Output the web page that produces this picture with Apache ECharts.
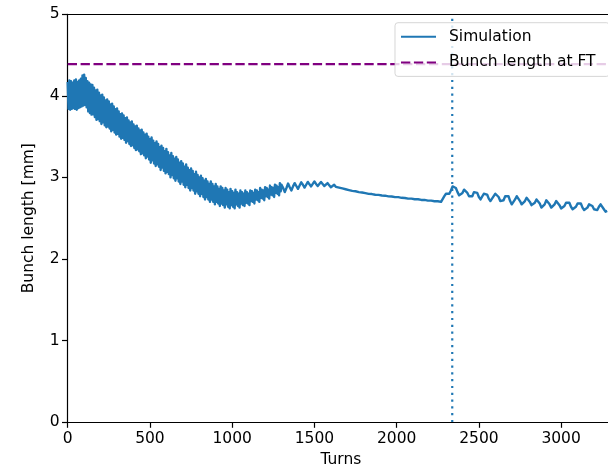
<!DOCTYPE html>
<html>
<head>
<meta charset="utf-8">
<script src="https://cdn.jsdelivr.net/npm/echarts@6/dist/echarts.min.js"></script>
<style>
  html, body { margin: 0; padding: 0; background: #fff; }
  #chart { width: 608px; height: 473px; }
</style>
</head>
<body>
<div id="chart"></div>
<script>
// Early turns: fast oscillation, sampled every 5 turns from turn 0
const earlyStep = 5;
const earlyLength = [
  4.17, 3.84, 4.19, 3.83, 4.18, 3.84, 4.16, 3.85, 4.19, 3.84,
  4.20, 3.83, 4.17, 3.85, 4.19, 3.86, 4.21, 3.87, 4.25, 3.88,
  4.26, 3.89, 4.22, 3.86, 4.18, 3.81, 4.16, 3.79, 4.14, 3.77,
  4.135, 3.775, 4.10, 3.74, 4.065, 3.705, 4.075, 3.715, 4.04, 3.69,
  4.005, 3.655, 4.015, 3.675, 3.98, 3.64, 3.945, 3.615, 3.955, 3.625,
  3.93, 3.60, 3.895, 3.565, 3.905, 3.585, 3.87, 3.55, 3.835, 3.525,
  3.845, 3.535, 3.81, 3.50, 3.775, 3.475, 3.785, 3.485, 3.76, 3.46,
  3.725, 3.425, 3.735, 3.445, 3.70, 3.41, 3.675, 3.385, 3.685, 3.395,
  3.65, 3.36, 3.625, 3.335, 3.635, 3.345, 3.60, 3.32, 3.575, 3.285,
  3.585, 3.295, 3.55, 3.27, 3.525, 3.235, 3.535, 3.255, 3.50, 3.22,
  3.47, 3.18, 3.49, 3.21, 3.45, 3.17, 3.42, 3.14, 3.44, 3.16,
  3.41, 3.13, 3.37, 3.09, 3.39, 3.12, 3.36, 3.08, 3.32, 3.05,
  3.35, 3.07, 3.31, 3.04, 3.27, 3.00, 3.30, 3.03, 3.26, 2.99,
  3.23, 2.96, 3.25, 2.99, 3.22, 2.95, 3.18, 2.92, 3.20, 2.95,
  3.17, 2.91, 3.13, 2.88, 3.16, 2.91, 3.12, 2.87, 3.09, 2.84,
  3.11, 2.87, 3.08, 2.84, 3.04, 2.80, 3.07, 2.83, 3.03, 2.80,
  3.00, 2.77, 3.02, 2.80, 2.99, 2.76, 2.96, 2.73, 2.98, 2.76,
  2.95, 2.73, 2.92, 2.70, 2.95, 2.73, 2.92, 2.70, 2.89, 2.67,
  2.92, 2.70, 2.89, 2.68, 2.86, 2.65, 2.89, 2.68, 2.87, 2.66,
  2.84, 2.63, 2.87, 2.67, 2.85, 2.64, 2.82, 2.62, 2.86, 2.66,
  2.83, 2.64, 2.81, 2.62, 2.85, 2.67, 2.82, 2.65, 2.80, 2.63,
  2.84, 2.68, 2.82, 2.66, 2.80, 2.65, 2.84, 2.69, 2.82, 2.68,
  2.80, 2.66, 2.84, 2.71, 2.83, 2.70, 2.81, 2.68, 2.85, 2.73,
  2.84, 2.72, 2.82, 2.70, 2.87, 2.75, 2.85, 2.74, 2.84, 2.72,
  2.88, 2.77, 2.87, 2.76, 2.85, 2.74, 2.90, 2.79, 2.88, 2.78,
  2.87, 2.76, 2.91, 2.81, 2.90, 2.80, 2.88, 2.78, 2.93, 2.83
];

// Later turns, sampled every 10 turns from turn 1300
const lateStart = 1300;
const lateStep = 10;
const lateLength = [
  2.91, 2.87, 2.82, 2.87, 2.925, 2.88, 2.84, 2.89, 2.93, 2.895,
  2.86, 2.90, 2.94, 2.91, 2.875, 2.91, 2.945, 2.915, 2.89, 2.92,
  2.95, 2.92, 2.895, 2.92, 2.945, 2.92, 2.895, 2.91, 2.93, 2.905,
  2.88, 2.895, 2.91, 2.885, 2.865, 2.875, 2.885, 2.865, 2.85, 2.855,
  2.86, 2.845, 2.83, 2.835, 2.845, 2.83, 2.815, 2.82, 2.828, 2.815,
  2.802, 2.808, 2.800, 2.798, 2.794, 2.796, 2.790, 2.788, 2.784, 2.786,
  2.780, 2.778, 2.774, 2.776, 2.770, 2.768, 2.764, 2.766, 2.760, 2.758,
  2.756, 2.758, 2.752, 2.750, 2.746, 2.748, 2.742, 2.740, 2.738, 2.740,
  2.734, 2.732, 2.730, 2.732, 2.726, 2.724, 2.722, 2.724, 2.718, 2.716,
  2.714, 2.716, 2.710, 2.708, 2.706, 2.708, 2.702, 2.700, 2.72, 2.77,
  2.80, 2.81, 2.80, 2.84, 2.89, 2.90, 2.87, 2.82, 2.78, 2.78,
  2.81, 2.85, 2.85, 2.81, 2.77, 2.75, 2.77, 2.82, 2.84, 2.81,
  2.76, 2.73, 2.75, 2.80, 2.82, 2.79, 2.74, 2.71, 2.72, 2.77,
  2.80, 2.80, 2.76, 2.71, 2.69, 2.72, 2.77, 2.79, 2.77, 2.71,
  2.67, 2.68, 2.73, 2.77, 2.76, 2.71, 2.67, 2.67, 2.71, 2.75,
  2.75, 2.70, 2.66, 2.65, 2.69, 2.73, 2.73, 2.68, 2.63, 2.63,
  2.67, 2.72, 2.72, 2.67, 2.63, 2.63, 2.67, 2.71, 2.71, 2.66,
  2.62, 2.62, 2.65, 2.69, 2.70, 2.69, 2.64, 2.61, 2.61, 2.64,
  2.68, 2.69, 2.68, 2.63, 2.60, 2.59, 2.63, 2.67, 2.68, 2.65,
  2.61, 2.59, 2.60, 2.64, 2.67, 2.65, 2.61, 2.58, 2.59
];

// Reference bunch length at flat top [mm]
const bunchLengthAtFT = 4.39;
// Turn marked by the vertical dotted line
const markerTurn = 2338;

// Axis ranges and ticks
const xMin = 0, xMax = 3285, xTickStep = 500;
const yMin = 0, yMax = 5, yTickStep = 1;

const simulation = earlyLength.map((v, i) => [i * earlyStep, v])
  .concat(lateLength.map((v, i) => [lateStart + i * lateStep, v]));

const textColor = '#000';
const fontFamily = 'DejaVu Sans';
const fontSize = 15.5;

const chart = echarts.init(document.getElementById('chart'), null, { renderer: 'canvas' });

chart.setOption({
  animation: false,
  backgroundColor: '#fff',
  textStyle: { fontFamily: fontFamily },
  grid: { left: 67.7, top: 14.3, bottom: 48.7, right: 0, containLabel: false },
  legend: {
    data: ['Simulation', 'Bunch length at FT'],
    orient: 'vertical',
    left: 395,
    top: 22.7,
    padding: [6, 14, 6, 5],
    itemWidth: 35,
    itemHeight: 16,
    itemGap: 9.7,
    backgroundColor: 'rgba(255,255,255,0.8)',
    borderColor: 'rgba(204,204,204,0.8)',
    borderWidth: 1,
    borderRadius: 3,
    itemStyle: { opacity: 0, color: 'transparent', borderColor: 'transparent' },
    textStyle: { color: textColor, fontSize: fontSize, fontFamily: fontFamily, lineHeight: 16, padding: [0, 0, 0, 8] },
    selectedMode: false
  },
  xAxis: [
    {
      type: 'value',
      min: xMin, max: xMax, interval: xTickStep,
      position: 'bottom',
      name: 'Turns',
      nameLocation: 'middle',
      nameGap: 29,
      nameTextStyle: { color: textColor, fontSize: fontSize, fontFamily: fontFamily, padding: [0, 0, 0, 6] },
      axisLine: { show: true, onZero: false, lineStyle: { color: '#000', width: 1.2 } },
      axisTick: { show: true, inside: false, length: 5.7, lineStyle: { color: '#000', width: 1.2 } },
      axisLabel: {
        color: textColor, fontSize: fontSize, fontFamily: fontFamily, margin: 9,
        showMaxLabel: false,
        formatter: (v) => String(v)
      },
      splitLine: { show: false }
    },
    {
      type: 'value',
      min: xMin, max: xMax,
      position: 'top',
      axisLine: { show: true, onZero: false, lineStyle: { color: '#000', width: 1.2 } },
      axisTick: { show: false },
      axisLabel: { show: false },
      splitLine: { show: false }
    }
  ],
  yAxis: {
    type: 'value',
    min: yMin, max: yMax, interval: yTickStep,
    name: 'Bunch length [mm]',
    nameLocation: 'middle',
    nameGap: 31,
    nameTextStyle: { color: textColor, fontSize: fontSize, fontFamily: fontFamily },
    axisLine: { show: true, onZero: false, lineStyle: { color: '#000', width: 1.2 } },
    axisTick: { show: true, inside: false, length: 5.7, lineStyle: { color: '#000', width: 1.2 } },
    axisLabel: { color: textColor, fontSize: fontSize, fontFamily: fontFamily, margin: 8 },
    splitLine: { show: false }
  },
  series: [
    {
      name: 'Simulation',
      type: 'line',
      data: simulation,
      symbol: 'none',
      showSymbol: false,
      lineStyle: { color: '#1f77b4', width: 2.4, join: 'round' },
      itemStyle: { color: '#1f77b4' },
      z: 3
    },
    {
      name: 'Bunch length at FT',
      type: 'line',
      data: [[xMin, bunchLengthAtFT], [xMax, bunchLengthAtFT]],
      symbol: 'none',
      showSymbol: false,
      lineStyle: { color: '#800080', width: 2.2, type: [9.3, 3.6], cap: 'butt' },
      itemStyle: { color: '#800080' },
      z: 2
    },
    {
      name: 'marker',
      type: 'line',
      data: [[markerTurn, yMin], [markerTurn, yMax]],
      symbol: 'none',
      showSymbol: false,
      lineStyle: { color: '#1f77b4', width: 2.2, type: [2.2, 4.6], cap: 'butt' },
      itemStyle: { color: '#1f77b4' },
      z: 2
    }
  ]
});
</script>
</body>
</html>
